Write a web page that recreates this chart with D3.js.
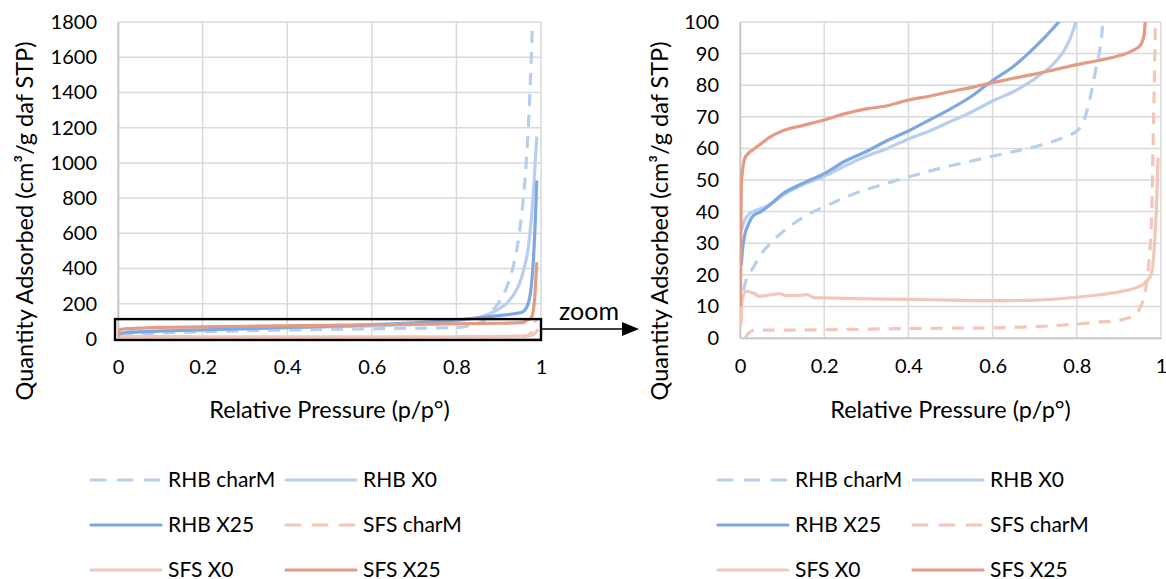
<!DOCTYPE html>
<html>
<head>
<meta charset="utf-8">
<script src="https://cdn.jsdelivr.net/npm/d3@7"></script>
<style>
  body { margin: 0; background: #fff; }
  svg text { font-family: Lato, "Liberation Sans", sans-serif; fill: #000; }
</style>
</head>
<body>
<div id="chart"></div>
<script>
// isotherms: [relative pressure, quantity adsorbed]
var rhbCharM = [[0.008,15],[0.015,18.5],[0.03,22],[0.05,26.5],[0.08,31],[0.12,35.5],[0.16,39],[0.2,41.5],
  [0.25,44.5],[0.3,47],[0.35,49],[0.4,51],[0.45,52.8],[0.5,54.5],[0.55,56],[0.6,57.5],[0.65,59],[0.7,60.5],
  [0.75,62.5],[0.78,64],[0.8,65.5],[0.815,68],[0.83,75],[0.845,85],[0.86,97],[0.875,130],[0.89,175],
  [0.905,225],[0.92,300],[0.935,420],[0.945,540],[0.955,720],[0.965,1000],[0.972,1300],[0.98,1800]];
var rhbX0 = [[0.003,34],[0.01,37],[0.02,39],[0.04,40.5],[0.06,41.5],[0.08,43],[0.1,45],[0.15,48.5],[0.2,51.2],
  [0.25,54.5],[0.3,57.5],[0.35,60],[0.4,63],[0.45,65.5],[0.5,68.5],[0.55,71.5],[0.6,75],[0.65,78],[0.7,82],
  [0.73,85],[0.75,87.5],[0.77,91],[0.785,95],[0.8,101],[0.82,110],[0.85,120],[0.88,145],[0.9,170],
  [0.92,205],[0.94,270],[0.95,320],[0.96,400],[0.97,520],[0.98,770],[0.99,1150]];
var rhbX25 = [[0.003,23],[0.006,28],[0.012,33],[0.02,36],[0.03,38.5],[0.05,40],[0.07,42],[0.1,45.5],[0.15,49],
  [0.2,52],[0.25,56],[0.3,59],[0.35,62.5],[0.4,65.5],[0.45,69],[0.5,72.5],[0.55,76.5],[0.6,81.5],[0.65,86],
  [0.7,92],[0.73,96],[0.76,100.5],[0.8,108],[0.85,120],[0.9,133],[0.94,145],[0.955,152],[0.965,175],
  [0.975,260],[0.982,450],[0.987,700],[0.99,900]];
var sfsCharM = [[0.012,0],[0.02,1.5],[0.035,2.5],[0.1,2.5],[0.2,2.6],[0.3,2.8],[0.4,3],[0.5,3.1],[0.6,3.2],
  [0.7,3.6],[0.8,4.4],[0.85,5],[0.9,5.6],[0.93,6.8],[0.945,8.3],[0.955,11],[0.962,14],[0.968,20],[0.972,25],
  [0.976,33],[0.979,45],[0.981,60],[0.984,80],[0.986,95],[0.988,110]];
var sfsX0 = [[0.002,4],[0.004,10],[0.008,13.5],[0.015,14.8],[0.025,14.5],[0.035,14],[0.045,13.2],[0.06,13.4],
  [0.08,13.8],[0.095,14],[0.11,13.4],[0.14,13.5],[0.16,13.7],[0.175,12.8],[0.2,12.7],[0.3,12.4],[0.4,12.2],
  [0.5,12],[0.6,11.8],[0.7,12],[0.8,12.9],[0.85,13.6],[0.9,14.6],[0.95,16.4],[0.975,19.6],[0.982,25],
  [0.986,33],[0.99,44],[0.993,57]];
var sfsX25 = [[0.001,10],[0.002,30],[0.003,48],[0.006,53],[0.012,57],[0.02,58.5],[0.03,59.5],[0.05,61.5],
  [0.07,63.5],[0.1,65.5],[0.15,67.3],[0.2,69],[0.25,71],[0.3,72.5],[0.35,73.5],[0.4,75.3],[0.45,76.5],
  [0.5,78],[0.55,79.3],[0.6,80.8],[0.65,82.2],[0.7,83.5],[0.75,85],[0.8,86.5],[0.85,87.8],[0.9,89.3],
  [0.93,90.8],[0.95,92.5],[0.96,96],[0.965,105],[0.975,115],[0.98,140],[0.985,230],[0.99,436]];

var seriesNames = ["RHB charM", "RHB X0", "RHB X25", "SFS charM", "SFS X0", "SFS X25"];
var seriesValues = [rhbCharM, rhbX0, rhbX25, sfsCharM, sfsX0, sfsX25];
var seriesColors = ["#b7cfee", "#b7cfee", "#7da8e2", "#f2c6b8", "#f2c6b8", "#e49b83"];
var seriesDashed = [true, false, false, true, false, false];

var xTicks = [0, 0.2, 0.4, 0.6, 0.8, 1];
var yTicksFull = d3.range(0, 1801, 200);
var yTicksZoom = d3.range(0, 101, 10);

var svg = d3.select("#chart").append("svg")
    .attr("width", 1166)
    .attr("height", 579);

function drawChart(id, left, right, top, bottom, yMax, yTicks, titleX, legendX) {
    var x = d3.scaleLinear().domain([0, 1]).range([left, right]);
    var y = d3.scaleLinear().domain([0, yMax]).range([bottom, top]);
    var g = svg.append("g");

    svg.append("clipPath").attr("id", id)
        .append("rect")
        .attr("x", left).attr("y", top)
        .attr("width", right - left).attr("height", bottom - top);

    // grid
    g.selectAll(".hg").data(yTicks).enter().append("line")
        .attr("x1", left).attr("x2", right)
        .attr("y1", function (d) { return y(d); })
        .attr("y2", function (d) { return y(d); })
        .style("stroke", "#d9d9d9").style("stroke-width", 1.5);
    g.selectAll(".vg").data(xTicks).enter().append("line")
        .attr("y1", top).attr("y2", bottom)
        .attr("x1", function (d) { return x(d); })
        .attr("x2", function (d) { return x(d); })
        .style("stroke", "#d9d9d9").style("stroke-width", 1.5);

    var yAxis = d3.axisLeft(y).tickValues(yTicks).tickSize(0).tickPadding(21)
        .tickFormat(d3.format("d"));
    var xAxis = d3.axisBottom(x).tickValues(xTicks).tickSize(0).tickPadding(21)
        .tickFormat(d3.format("~g"));
    var ya = g.append("g").attr("transform", "translate(" + left + ",0)").call(yAxis);
    var xa = g.append("g").attr("transform", "translate(0," + bottom + ")").call(xAxis);
    [ya, xa].forEach(function (a) {
        a.select(".domain").style("stroke", "#c4c4c4").style("stroke-width", 1.6);
        a.selectAll("text").style("font-size", "20px").style("font-family", "Lato, sans-serif");
    });

    var line = d3.line()
        .x(function (d) { return x(d[0]); })
        .y(function (d) { return y(d[1]); })
        .curve(d3.curveMonotoneX);
    g.append("g").attr("clip-path", "url(#" + id + ")")
        .selectAll("path").data(seriesValues).enter().append("path")
        .attr("d", line)
        .style("fill", "none")
        .style("stroke", function (d, i) { return seriesColors[i]; })
        .style("stroke-width", 3.2)
        .style("stroke-linejoin", "round")
        .style("stroke-dasharray", function (d, i) { return seriesDashed[i] ? "12,9" : null; });

    // axis titles
    g.append("text")
        .attr("transform", "translate(" + titleX + ",221) rotate(-90)")
        .attr("text-anchor", "middle")
        .attr("dy", "0.35em")
        .style("font-size", "23.5px")
        .text("Quantity Adsorbed (cm³/g daf STP)");
    g.append("text")
        .attr("x", (left + right) / 2).attr("y", 410)
        .attr("dy", "0.35em")
        .attr("text-anchor", "middle")
        .style("font-size", "23.5px")
        .text("Relative Pressure (p/p°)");

    // legend, 3 rows x 2 columns
    var lg = g.append("g");
    seriesNames.forEach(function (name, i) {
        var lx = legendX + (i % 2) * 195;
        var ly = 480 + Math.floor(i / 2) * 45;
        lg.append("line")
            .attr("x1", lx).attr("x2", lx + 70)
            .attr("y1", ly).attr("y2", ly)
            .style("stroke", seriesColors[i])
            .style("stroke-width", 3.2)
            .style("stroke-dasharray", seriesDashed[i] ? "14,13" : null)
            .style("stroke-linecap", "round");
        lg.append("text")
            .attr("x", lx + 77).attr("y", ly)
            .attr("dy", "0.35em")
            .style("font-size", "21px")
            .text(name);
    });
    return {x: x, y: y, g: g};
}

var full = drawChart("clipFull", 118, 541, 22, 339, 1800, yTicksFull, 25, 91);
drawChart("clipZoom", 740, 1161, 22, 338, 100, yTicksZoom, 660, 718);

// zoom box and arrow on the left chart
full.g.append("rect")
    .attr("x", full.x(0) - 3).attr("y", full.y(113))
    .attr("width", full.x(1) - full.x(0) + 3)
    .attr("height", full.y(0) - full.y(113) + 1)
    .style("fill", "none").style("stroke", "#000").style("stroke-width", 2.4);
full.g.append("line")
    .attr("x1", full.x(1)).attr("x2", 624)
    .attr("y1", 329).attr("y2", 329)
    .style("stroke", "#000").style("stroke-width", 1.3);
full.g.append("path")
    .attr("d", "M622,322L639,329L622,336Z")
    .style("fill", "#000");
full.g.append("text")
    .attr("x", 559).attr("y", 320)
    .style("font-size", "25px")
    .text("zoom");
</script>
</body>
</html>
